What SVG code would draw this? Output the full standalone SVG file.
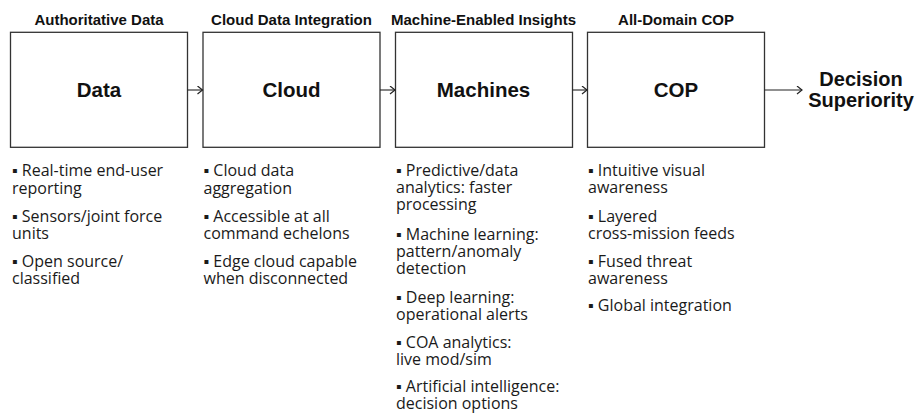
<svg xmlns="http://www.w3.org/2000/svg" width="918" height="417" viewBox="0 0 918 417">
<defs>
<marker id="chev" markerWidth="8" markerHeight="10" refX="6" refY="4.5" orient="auto" markerUnits="userSpaceOnUse">
<path d="M1,0.5 L6,4.5 L1,8.5" fill="none" stroke="#222" stroke-width="1.2"/>
</marker>
<style>
.box{fill:#fff;stroke:#333;stroke-width:1.3}
.hdr{font-family:"Liberation Sans",Arial,sans-serif;font-weight:bold;font-size:15px;fill:#111;text-anchor:middle}
.lbl{font-family:"Liberation Sans",Arial,sans-serif;font-weight:bold;font-size:20.5px;fill:#111;text-anchor:middle}
.txt{font-family:"Open Sans","Noto Sans",sans-serif;font-size:16px;fill:#1a1a1a}
.con{fill:none;stroke:#222;stroke-width:1.1;marker-end:url(#chev)}
</style>
</defs>
<rect width="918" height="417" fill="#fff"/>
<g id="data">
<text class="hdr" x="99" y="25">Authoritative Data</text>
<rect class="box" x="10.5" y="32.3" width="177" height="115"/>
<text class="lbl" x="99" y="97">Data</text>
<text class="txt"><tspan x="12" y="176">▪ Real-time end-user</tspan><tspan x="12" y="194">reporting</tspan><tspan x="12" y="221.5">▪ Sensors/joint force</tspan><tspan x="12" y="239">units</tspan><tspan x="12" y="266.5">▪ Open source/</tspan><tspan x="12" y="284">classified</tspan></text>
</g>
<g id="cloud">
<text class="hdr" x="291.5" y="25">Cloud Data Integration</text>
<rect class="box" x="203" y="32.3" width="177" height="115"/>
<text class="lbl" x="291.5" y="97">Cloud</text>
<text class="txt"><tspan x="203.5" y="176">▪ Cloud data</tspan><tspan x="203.5" y="194">aggregation</tspan><tspan x="203.5" y="221.5">▪ Accessible at all</tspan><tspan x="203.5" y="239">command echelons</tspan><tspan x="203.5" y="266.5">▪ Edge cloud capable</tspan><tspan x="203.5" y="284">when disconnected</tspan></text>
</g>
<g id="machines">
<text class="hdr" x="483.5" y="25">Machine-Enabled Insights</text>
<rect class="box" x="395.5" y="32.3" width="177" height="115"/>
<text class="lbl" x="483.5" y="97">Machines</text>
<text class="txt"><tspan x="396" y="176">▪ Predictive/data</tspan><tspan x="396" y="193">analytics: faster</tspan><tspan x="396" y="210">processing</tspan><tspan x="396" y="239.5">▪ Machine learning:</tspan><tspan x="396" y="256.5">pattern/anomaly</tspan><tspan x="396" y="273.5">detection</tspan><tspan x="396" y="303">▪ Deep learning:</tspan><tspan x="396" y="320">operational alerts</tspan><tspan x="396" y="347.5">▪ COA analytics:</tspan><tspan x="396" y="364.5">live mod/sim</tspan><tspan x="396" y="391.5">▪ Artificial intelligence:</tspan><tspan x="396" y="408.5">decision options</tspan></text>
</g>
<g id="cop">
<text class="hdr" x="676" y="25">All-Domain COP</text>
<rect class="box" x="587.5" y="32.3" width="177" height="115"/>
<text class="lbl" x="676" y="97">COP</text>
<text class="txt"><tspan x="588" y="176">▪ Intuitive visual</tspan><tspan x="588" y="193">awareness</tspan><tspan x="588" y="221.5">▪ Layered</tspan><tspan x="588" y="239">cross-mission feeds</tspan><tspan x="588" y="266.5">▪ Fused threat</tspan><tspan x="588" y="284">awareness</tspan><tspan x="588" y="311">▪ Global integration</tspan></text>
</g>
<g id="decision">
<text class="lbl" style="font-size:20px" x="861" y="86">Decision</text>
<text class="lbl" style="font-size:20px" x="861" y="107.3">Superiority</text>
</g>
<g id="connectors">
<path class="con" d="M187.5,90 H202.5"/>
<path class="con" d="M380,90 H395"/>
<path class="con" d="M572.5,90 H587"/>
<path class="con" d="M764.5,90 H802"/>
</g>
</svg>
